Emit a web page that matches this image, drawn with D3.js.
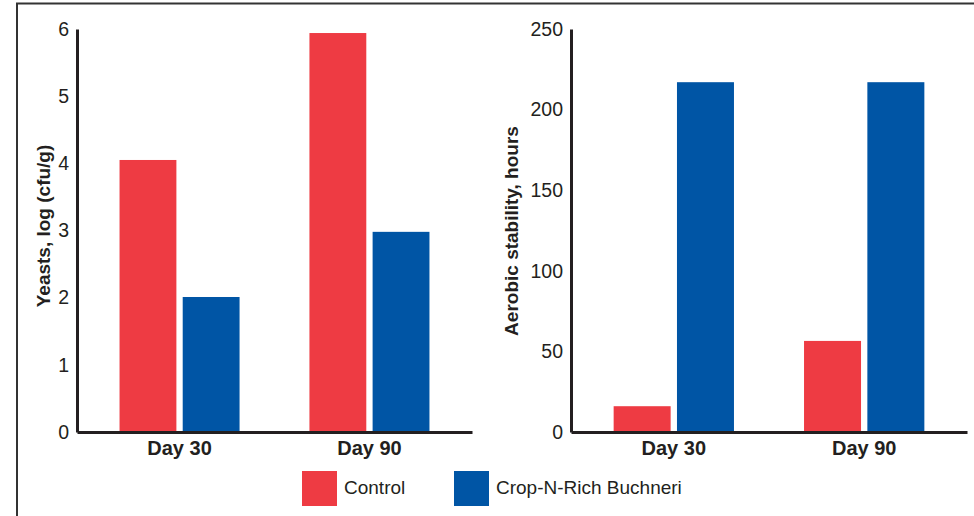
<!DOCTYPE html>
<html>
<head>
<meta charset="utf-8">
<script src="https://cdn.jsdelivr.net/npm/d3@7"></script>
<style>
  html, body { margin: 0; padding: 0; background: #fff; }
  svg { display: block; }
  text { font-family: "Liberation Sans", Arial, sans-serif; fill: #231F20; }
</style>
</head>
<body>
<svg id="chart" width="974" height="516"></svg>
<script>
const categories = ["Day 30", "Day 90"];
const seriesNames = ["Control", "Crop-N-Rich Buchneri"];
const yeastsControl = [4.05, 5.94];
const yeastsBuchneri = [2.01, 2.98];
const stabilityControl = [16, 56.5];
const stabilityBuchneri = [217, 217];
const yeastsTicks = [0, 1, 2, 3, 4, 5, 6];
const stabilityTicks = [0, 50, 100, 150, 200, 250];
const colors = ["#EE3B43", "#0055A5"];

const svg = d3.select("#chart");
const ink = "#231F20";

// outer frame (left and top edges)
svg.append("path")
  .attr("d", "M17,516 L17,3.5 L974,3.5")
  .attr("fill", "none").attr("stroke", "#333").attr("stroke-width", 2);

function panel(opts) {
  const g = svg.append("g");
  const x0 = d3.scaleBand().domain(categories).range(opts.xRange)
    .paddingInner(0.368).paddingOuter(0.224);
  const x1 = d3.scaleBand().domain(seriesNames).range([0, x0.bandwidth()]).paddingInner(0.1);
  const y = d3.scaleLinear().domain(opts.yDomain).range([432, 29]);

  const data = categories.map((c, i) => ({
    cat: c,
    vals: [{ s: seriesNames[0], v: opts.a[i], k: 0 }, { s: seriesNames[1], v: opts.b[i], k: 1 }]
  }));

  g.selectAll("g.grp").data(data).join("g").attr("class", "grp")
    .attr("transform", d => `translate(${x0(d.cat)},0)`)
    .selectAll("rect").data(d => d.vals).join("rect")
      .attr("x", d => x1(d.s))
      .attr("width", x1.bandwidth())
      .attr("y", d => y(d.v))
      .attr("height", d => y(0) - y(d.v))
      .attr("fill", d => colors[d.k]);

  const ya = g.append("g").attr("transform", `translate(${opts.xRange[0]},0)`)
    .call(d3.axisLeft(y).tickValues(opts.ticks).tickFormat(d3.format("d"))
      .tickSize(0).tickPadding(8).tickSizeOuter(0));
  ya.select(".domain").attr("stroke", ink).attr("stroke-width", 3);
  ya.selectAll("text").style("font-family", '"Liberation Sans", Arial, sans-serif')
    .style("font-size", "19.5px").attr("fill", ink);

  const xa = g.append("g").attr("transform", "translate(0,432)")
    .call(d3.axisBottom(x0).tickSize(0).tickPadding(9).tickSizeOuter(0));
  xa.select(".domain").attr("stroke", ink).attr("stroke-width", 3);
  xa.selectAll("text").style("font-family", '"Liberation Sans", Arial, sans-serif')
    .style("font-size", "20px").style("font-weight", "bold").attr("fill", ink);

  g.append("text")
    .attr("transform", `translate(${opts.titleX},${opts.titleY}) rotate(-90)`)
    .attr("text-anchor", "middle")
    .style("font-size", "19px").style("font-weight", "bold")
    .text(opts.title);
}

panel({ xRange: [77, 472], yDomain: [0, 6], ticks: yeastsTicks,
  a: yeastsControl, b: yeastsBuchneri, title: "Yeasts, log (cfu/g)", titleX: 50, titleY: 226 });
panel({ xRange: [571, 967], yDomain: [0, 250], ticks: stabilityTicks,
  a: stabilityControl, b: stabilityBuchneri, title: "Aerobic stability, hours", titleX: 518, titleY: 231 });

// legend
const legendX = [302, 454];
const lg = svg.append("g");
seriesNames.forEach((s, i) => {
  lg.append("rect").attr("x", legendX[i]).attr("y", 471).attr("width", 35).attr("height", 35)
    .attr("fill", colors[i]);
  lg.append("text").attr("x", legendX[i] + 42).attr("y", 494)
    .style("font-size", "19px").text(s);
});
</script>
</body>
</html>
